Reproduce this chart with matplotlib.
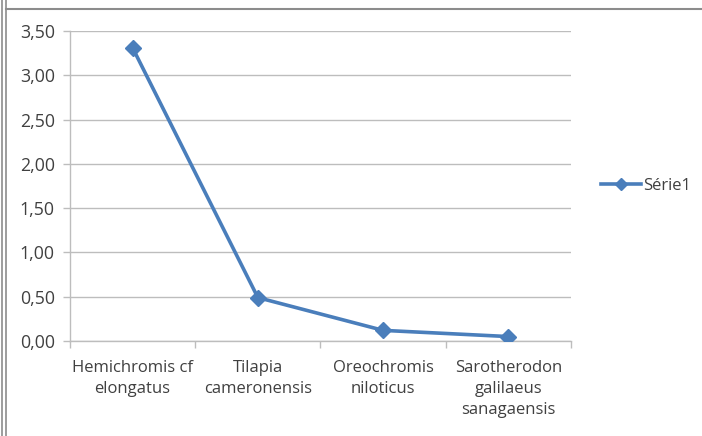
import matplotlib
matplotlib.use("Agg")
import matplotlib.pyplot as plt
from matplotlib.lines import Line2D

# Species and measured values
species = [
    "Hemichromis cf\nelongatus",
    "Tilapia\ncameronensis",
    "Oreochromis\nniloticus",
    "Sarotherodon\ngalilaeus\nsanagaensis",
]
values = [3.31, 0.49, 0.12, 0.05]
series_name = "Série1"
y_ticks = [0.0, 0.5, 1.0, 1.5, 2.0, 2.5, 3.0, 3.5]

LINE_C = "#4a7ebb"
GRID_C = "#bdbdbd"
TEXT_C = "#404040"
BORDER_C = "#8c8c8c"

plt.rcParams["font.family"] = ["Open Sans", "DejaVu Sans"]
plt.rcParams["font.size"] = 12

fig = plt.figure(figsize=(7.02, 4.36), dpi=100)
ax = fig.add_axes([0.0997, 0.2179, 0.7137, 0.711])

x = list(range(len(species)))
ax.plot(x, values, color=LINE_C, lw=2.6, marker="D", markersize=8.5,
        label=series_name, zorder=3)

ax.set_xlim(-0.5, len(species) - 0.5)
ax.set_ylim(0, 3.5)
ax.set_yticks(y_ticks)
ax.set_yticklabels([f"{v:.2f}".replace(".", ",") for v in y_ticks], fontsize=12.8)

# category labels centred, tick marks at category boundaries
ax.set_xticks(x)
ax.set_xticklabels(species, linespacing=1.4)
ax.set_xticks([i - 0.5 for i in range(len(species) + 1)], minor=True)
ax.tick_params(axis="x", which="major", length=0, pad=14, colors=TEXT_C)
ax.tick_params(axis="x", which="minor", length=5, width=1, color=GRID_C)
ax.tick_params(axis="y", length=5, width=1, color=GRID_C, colors=TEXT_C, pad=6)
for lbl in ax.get_xticklabels() + ax.get_yticklabels():
    lbl.set_color(TEXT_C)

ax.grid(axis="y", color=GRID_C, lw=1)
ax.set_axisbelow(True)
for side in ("top", "right"):
    ax.spines[side].set_visible(False)
for side in ("left", "bottom"):
    ax.spines[side].set_color(GRID_C)
    ax.spines[side].set_linewidth(1)

leg = ax.legend(loc="center left", bbox_to_anchor=(1.03, 0.5), frameon=False,
                handlelength=2.4, handletextpad=0.1, fontsize=12,
                labelcolor=TEXT_C, markerscale=0.75)

# frame lines around the chart
fig.add_artist(Line2D([6 / 702, 1], [1 - 9 / 436, 1 - 9 / 436],
                      transform=fig.transFigure, color=BORDER_C, lw=1.5))
for xp in (2 / 702, 6 / 702):
    fig.add_artist(Line2D([xp, xp], [0, 1], transform=fig.transFigure,
                          color=BORDER_C, lw=1.2))

fig.savefig("out.png", dpi=100)
